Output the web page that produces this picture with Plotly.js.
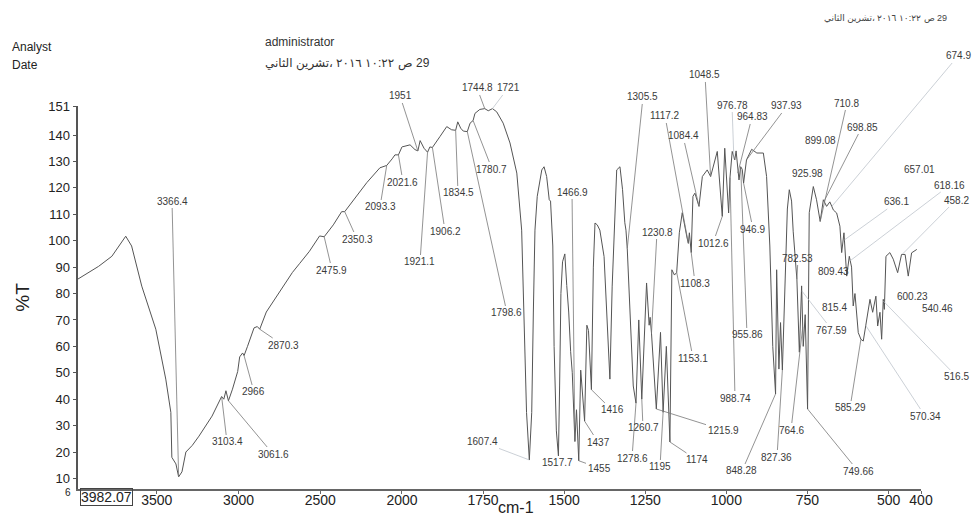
<!DOCTYPE html>
<html><head><meta charset="utf-8">
<script src="https://cdn.plot.ly/plotly-3.0.1.min.js"></script>
<style>html,body{margin:0;padding:0;background:#fff;}#chart{width:973px;height:517px;}</style>
</head><body><div id="chart"></div>
<script>
// ---- data ----
const wavenumbers = [3982,3930,3856,3775,3720,3690,3654,3592,3506,3445,3414,3408,3383,3366.4,3346,3322,3283,3242,3162,3103.4,3090,3077,3061.6,3037,3005,2993,2975,2966,2945,2905,2885,2870.3,2830,2768,2670,2627,2566,2504,2475.9,2420,2369,2350.3,2290,2215,2135,2093.3,2060,2043,2021.6,2000,
1975,1960,1951,1944,1932,1921.1,1914,1906.2,1895,1883,1862,1847,1834.5,1828,1819,1811,1798.6,1790,1780.7,1775,1760,1744.8,1734,1721,1708,1688,1667,1646,1631,1624,1616,1607.4,1600,1595,1590,1583,1569,1562,1554,1546,1542,1535,1531,1524,1517.7,1514,1510,1505,1498,1492,1486,1480,1475,1466.9,1462,1455,1449,1437,1430,1425,1416,1410,1405,1398,1390,1377,1369,1359,1352,1338,1328,1320,1313,1309.5,1305.5,1297,1287,1278.6,1270,1260.7,1246,1238,1235,1230.8,1224,1215.9,1203,1195,1185,1174,1168,1160,1153.1,1145,1136,1127,1121,1117.2,1114,1108.3,1103,1097,1088,1084.4,1074,1059,1048.5,1028,1012.6,1005,993,988.74,982,976.78,974,970,964.83,961,955.86,951,946.9,937.93,922,906,886,876,866,857,848.28,845,838,833,827.36,819,812,806,799,794,789,782.53,775,768,763,757,749.66,744.5,732,722,710.8,701,691,681,670,660,650,644.5,637.5,629,621,614,609,603.6,593.4,585.29,578,567.6,557.3,549,539,533.6,526.5,521.3,516.3,513,508,496,485.5,472,460,449,439.3,429,413];
const transmittance = [85.5,87.5,90.3,94.1,99.0,101.7,98.0,82.8,66.5,47.6,35.0,18.0,15.5,10.6,12.5,20.0,22.5,26.0,33.6,41.0,40.0,43.2,39.4,43.8,50.5,56.0,57.5,56.5,60.0,67.0,67.5,66.5,73.0,79.0,88.0,91.3,96.0,101.8,101.5,106.0,111.0,111.0,116.0,122.0,127.6,128.5,131.0,132.5,132.5,135.5,
136.3,134.5,134.0,137.9,135.0,133.5,135.5,135.3,137.5,139.4,143.2,142.0,141.8,145.0,142.6,141.5,141.3,144.5,145.5,148.2,149.7,150.0,149.2,150.0,148.8,144.5,137.0,125.6,104.0,73.0,35.0,17.0,35.0,73.0,104.0,116.8,126.8,128.0,124.3,115.5,115.0,98.0,60.0,28.0,18.5,45.0,80.0,92.0,95.0,83.0,73.0,58.0,50.0,24.0,36.0,16.7,51.0,31.7,68.0,66.0,43.6,90.0,106.7,106.0,104.0,94.0,72.8,47.6,82.8,126.8,128.0,119.3,106.8,104.0,97.0,73.0,45.0,38.5,70.0,40.0,84.0,68.0,71.0,65.0,50.0,36.3,65.3,35.0,60.0,23.8,89.0,87.0,88.0,103.0,110.6,104.0,101.0,99.0,103.0,95.5,116.8,118.0,114.0,113.0,124.3,126.8,124.3,133.8,109.2,135.0,110.5,124.0,133.8,131.0,130.6,134.0,125.6,123.0,128.0,127.0,121.8,130.6,134.6,133.2,133.2,124.3,98.0,60.0,42.0,89.0,51.4,69.0,51.0,85.3,112.0,119.3,115.0,103.6,94.8,85.3,57.8,82.9,60.0,72.0,36.3,110.6,120.5,115.5,107.3,115.5,113.0,114.7,111.6,110.5,105.5,95.5,103.0,86.6,94.1,90.0,75.3,80.0,65.2,62.7,62.0,70.0,77.8,72.9,79.0,67.7,72.9,62.7,77.8,74.0,94.1,95.5,93.0,87.9,94.8,94.8,86.6,95.4,96.7];

const peakLabels = ['3366.4','3103.4','3061.6','2966','2870.3','2475.9','2350.3','2093.3','2021.6','1951','1921.1','1906.2','1834.5','1780.7','1744.8','1721','1798.6','1607.4','1517.7','1466.9','1455','1437','1416','1305.5','1278.6','1260.7','1230.8','1215.9','1195','1174','1153.1','1117.2','1108.3','1084.4','1048.5','1012.6','988.74','976.78','964.83','955.86','946.9','937.93','925.98','899.08','848.28','827.36','815.4','809.43','782.53','767.59','764.6','749.66','710.8','698.85','674.9','657.01','636.1','618.16','458.2','600.23','540.46','585.29','570.34','516.5'];

const yTickVals = [10,20,30,40,50,60,70,80,90,100,110,120,130,140,151];
const yBottomTick = 6;
const xTicksHigh = [3500,3000,2500];
const xTicksLow = [2000,1750,1500,1250,1000,750,500,400];
// date line, pieces in the left-to-right order seen on the printout
const dateParts = ['تشرين الثاني،', '٢٠١٦', '١٠:٢٢', 'ص', '29'];

// ---- layout helpers (positions, not data) ----
const M = {l:78, r:52, t:106, b:28};
const W = 973, H = 517;
const PW = W - M.l - M.r, PH = H - M.t - M.b;
const SPLIT = 0.3843;
const X_MAX = 3982.07, X_BREAK = 2000, X_MIN = 400, Y_MIN = 6, Y_MAX = 151;
function pxOf(wn){
  if (wn >= X_BREAK) return M.l + (X_MAX - wn)/(X_MAX - X_BREAK)*SPLIT*PW;
  return M.l + SPLIT*PW + (X_BREAK - wn)/(X_BREAK - X_MIN)*(1-SPLIT)*PW;
}
function pyOf(v){ return M.t + (Y_MAX - v)/(Y_MAX - Y_MIN)*PH; }
function interp(wn){
  for (let i=0;i<wavenumbers.length-1;i++){
    const a=wavenumbers[i], b=wavenumbers[i+1];
    if (wn<=a && wn>=b){ const t=(a-wn)/(a-b); return transmittance[i]+(transmittance[i+1]-transmittance[i])*t; }
  }
  return transmittance[transmittance.length-1];
}
function paperX(px){ return (px - M.l)/PW; }
function paperY(py){ return (H - M.b - py)/PH; }

// label text centre (page pixels) and leader style: 1 solid, 2 faint, 0 none
const labelPlacement = [
 [172,201,1],[227,442,1],[273,454,1],[254,392,1],[283,345,1],[332,270,1],[357,239,1],[380,207,1],[403,182,1],[400,96,1],
 [420,262,1],[445,231,1],[458,193,1],[492,169,1],[477,88,1],[508,88,2],[507,313,1],[482,442,2],[557,463,1],[572,192,1],
 [599,468,1],[598,442,1],[612,410,1],[643,97,1],[632,458,1],[643,428,1],[657,232,1],[723,430,1],[660,467,1],[697,460,1],
 [693,358,1],[665,116,1],[695,283,1],[683,136,1],[705,75,1],[713,243,1],[735,398,1],[732,105,2],[752,117,1],[747,335,1],
 [753,229,1],[787,106,1],[807,173,0],[820,140,0],[742,471,1],[777,457,1],[835,307,0],[833,272,0],[798,258,1],[832,330,2],
 [791,430,1],[858,471,1],[847,103,1],[862,127,1],[958,56,2],[920,170,0],[897,202,2],[950,185,2],[956,200,2],[913,297,0],
 [938,309,0],[850,408,1],[925,416,2],[957,377,2]
];

const FONT = 'Liberation Sans, Arial, DejaVu Sans, sans-serif';
const hi = wavenumbers.map((w,i)=>[w,transmittance[i]]).filter(p=>p[0]>=X_BREAK);
const lo = wavenumbers.map((w,i)=>[w,transmittance[i]]).filter(p=>p[0]<=X_BREAK);

const traces = [
 {x: hi.map(p=>p[0]), y: hi.map(p=>p[1]), xaxis:'x', yaxis:'y', type:'scatter', mode:'lines', line:{color:'#555', width:1}, hoverinfo:'skip', showlegend:false},
 {x: lo.map(p=>p[0]), y: lo.map(p=>p[1]), xaxis:'x2', yaxis:'y', type:'scatter', mode:'lines', line:{color:'#555', width:1}, hoverinfo:'skip', showlegend:false}
];

const annotations = peakLabels.map((t,i)=>{
  const wn = parseFloat(t), v = interp(wn);
  const [lx, ly, st] = labelPlacement[i];
  return {x: wn, y: v, xref: wn>=X_BREAK?'x':'x2', yref:'y', text:t, showarrow:true,
    ax: lx - pxOf(wn), ay: ly - pyOf(v), arrowhead:0, standoff:0,
    arrowwidth: st===1?0.8:0.7, arrowcolor: st===1?'#777':(st===2?'#b4bcc4':'rgba(0,0,0,0)'),
    font:{family:FONT, size:10, color:'#3a3a3a'}};
});

function addText(t, px, py, size, color){
  annotations.push({x:paperX(px), y:paperY(py), xref:'paper', yref:'paper', xanchor:'left', yanchor:'middle', text:t, showarrow:false, font:{family:FONT, size:size, color:color}});
}
const ctx = document.createElement('canvas').getContext('2d');
function addDateLine(x0, py, size, color){
  ctx.font = size + 'px ' + FONT;
  const gap = ctx.measureText(' ').width;
  let x = x0;
  dateParts.forEach(p=>{ addText(p, x, py, size, color); x += ctx.measureText(p).width + gap; });
}
addText('Analyst', 10, 47, 12, '#222');
addText('Date', 10, 65, 12, '#222');
addText('administrator', 263, 42, 12, '#333');
addDateLine(263, 63, 12, '#333');
addDateLine(822, 18, 9, '#444');

annotations.push({x:paperX(106), y:paperY(497), xref:'paper', yref:'paper', xanchor:'center', yanchor:'middle', text:'3982.07', showarrow:false, bordercolor:'#444', borderwidth:1, borderpad:0, font:{family:FONT, size:14, color:'#222'}});
annotations.push({x:paperX(516), y:paperY(507), xref:'paper', yref:'paper', xanchor:'center', yanchor:'middle', text:'cm-1', showarrow:false, font:{family:FONT, size:16, color:'#222'}});
// small bottom tick label of the %T axis
annotations.push({x:0, y:yBottomTick, xref:'paper', yref:'y', xanchor:'right', yanchor:'top', xshift:-5, yshift:4, text:String(yBottomTick), showarrow:false, font:{family:FONT, size:10, color:'#222'}});

const axStyle = {showline:true, linecolor:'#666', linewidth:1.5, ticks:'outside', ticklen:3, tickcolor:'#666', showgrid:false, zeroline:false, tickfont:{family:FONT, size:14, color:'#222'}, ticklabelstandoff:-5, anchor:'y', fixedrange:true};

const layout = {
  width:W, height:H, margin:M, paper_bgcolor:'#fff', plot_bgcolor:'#fff', showlegend:false,
  xaxis: Object.assign({}, axStyle, {domain:[0,SPLIT], range:[X_MAX, X_BREAK], tickmode:'array', tickvals:xTicksHigh, ticktext:xTicksHigh.map(String)}),
  xaxis2: Object.assign({}, axStyle, {domain:[SPLIT,1], range:[X_BREAK, X_MIN], tickmode:'array', tickvals:xTicksLow, ticktext:xTicksLow.map(String)}),
  yaxis: {range:[Y_MIN, Y_MAX], tickmode:'array', tickvals:yTickVals, ticktext:yTickVals.map(String), showline:true, linecolor:'#555', linewidth:2.5, ticks:'outside', ticklen:3, tickcolor:'#555', showgrid:false, zeroline:false, tickfont:{family:FONT, size:13, color:'#222'},
    title:{text:'%T', font:{family:FONT, size:19, color:'#222'}, standoff:14}},
  annotations: annotations
};

Plotly.newPlot('chart', traces, layout, {staticPlot:true, displayModeBar:false});
</script></body></html>
